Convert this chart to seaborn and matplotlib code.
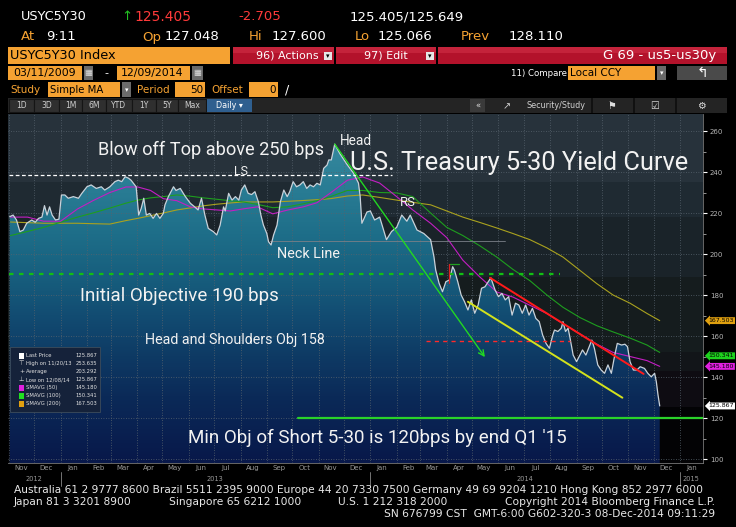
#!/usr/bin/env python3
# US Treasury 5s30s curve - Bloomberg style chart

import numpy as np
import pandas as pd
import matplotlib
matplotlib.use("Agg")
import matplotlib.pyplot as plt
import matplotlib.dates as mdates
import seaborn as sns
from matplotlib.patches import Rectangle
from matplotlib.colors import LinearSegmentedColormap
from matplotlib.ticker import MultipleLocator, FuncFormatter
from matplotlib.transforms import blended_transform_factory

# ---- data (bps) ----
price_dates = [
    "2012-11-02", "2012-11-06", "2012-11-10", "2012-11-14", "2012-11-18", "2012-11-22",
    "2012-11-28", "2012-12-02", "2012-12-06", "2012-12-10", "2012-12-13", "2012-12-16",
    "2012-12-19", "2012-12-22", "2012-12-26", "2012-12-30", "2013-01-02", "2013-01-06",
    "2013-01-10", "2013-01-16", "2013-01-22", "2013-01-26", "2013-02-01", "2013-02-06",
    "2013-02-12", "2013-02-18", "2013-02-22", "2013-02-28", "2013-03-06", "2013-03-10",
    "2013-03-14", "2013-03-18", "2013-03-22", "2013-03-25", "2013-03-31", "2013-04-03",
    "2013-04-06", "2013-04-09", "2013-04-12", "2013-04-16", "2013-04-20", "2013-04-24",
    "2013-04-28", "2013-05-02", "2013-05-04", "2013-05-08", "2013-05-14", "2013-05-17",
    "2013-05-22", "2013-05-28", "2013-06-03", "2013-06-08", "2013-06-12", "2013-06-16",
    "2013-06-20", "2013-06-24", "2013-06-30", "2013-07-04", "2013-07-08", "2013-07-12",
    "2013-07-14", "2013-07-18", "2013-07-22", "2013-07-26", "2013-07-30", "2013-08-02",
    "2013-08-06", "2013-08-10", "2013-08-14", "2013-08-18", "2013-08-22", "2013-08-25",
    "2013-08-28", "2013-09-01", "2013-09-03", "2013-09-06", "2013-09-09", "2013-09-13",
    "2013-09-17", "2013-09-21", "2013-09-25", "2013-09-28", "2013-10-02", "2013-10-06",
    "2013-10-10", "2013-10-14", "2013-10-18", "2013-10-22", "2013-10-26", "2013-10-30",
    "2013-11-03", "2013-11-07", "2013-11-11", "2013-11-13", "2013-11-16", "2013-11-20",
    "2013-11-26", "2013-12-04", "2013-12-12", "2013-12-18", "2013-12-20", "2013-12-22",
    "2013-12-28", "2014-01-01", "2014-01-06", "2014-01-12", "2014-01-20", "2014-01-26",
    "2014-02-01", "2014-02-07", "2014-02-13", "2014-02-17", "2014-02-25", "2014-03-05",
    "2014-03-13", "2014-03-17", "2014-03-19", "2014-03-23", "2014-03-27", "2014-03-31",
    "2014-04-04", "2014-04-08", "2014-04-10", "2014-04-14", "2014-04-18", "2014-04-22",
    "2014-04-26", "2014-04-30", "2014-05-04", "2014-05-08", "2014-05-12", "2014-05-16",
    "2014-05-20", "2014-05-23", "2014-05-28", "2014-06-01", "2014-06-05", "2014-06-09",
    "2014-06-13", "2014-06-17", "2014-06-21", "2014-06-25", "2014-06-29", "2014-07-03",
    "2014-07-07", "2014-07-11", "2014-07-15", "2014-07-19", "2014-07-23", "2014-07-27",
    "2014-07-31", "2014-08-04", "2014-08-06", "2014-08-10", "2014-08-14", "2014-08-16",
    "2014-08-19", "2014-08-22", "2014-08-24", "2014-08-28", "2014-09-01", "2014-09-05",
    "2014-09-08", "2014-09-12", "2014-09-16", "2014-09-19", "2014-09-22", "2014-09-26",
    "2014-09-30", "2014-10-04", "2014-10-08", "2014-10-12", "2014-10-16", "2014-10-19",
    "2014-10-24", "2014-10-28", "2014-10-31", "2014-11-03", "2014-11-07", "2014-11-11",
    "2014-11-15", "2014-11-20", "2014-11-24", "2014-11-28", "2014-12-02", "2014-12-04",
    "2014-12-06", "2014-12-08",
]
price_bps = [
    218.2, 219, 216.6, 210.9, 211.7, 215,
    216.6, 215.5, 217.4, 218, 223.6, 219,
    223, 219, 216.6, 217, 228.8, 228.8,
    227.2, 228, 227.2, 229.6, 232.8, 233.7,
    232, 232.8, 231.2, 232.8, 235.3, 236,
    235.3, 237.7, 237, 236, 232.8, 219,
    222.3, 227.2, 219, 219.8, 217.4, 219.8,
    217.4, 219.8, 224, 228, 232.8, 231,
    232, 228, 224.7, 223, 221.5, 227.2,
    219, 212.5, 210.9, 209.3, 214.1, 223,
    221, 229.6, 226.3, 228, 226.3, 231.2,
    233.7, 229.6, 229, 230.4, 225.5, 219,
    214.1, 210, 206, 204.4, 209.3, 214.1,
    225.5, 231.2, 228, 230.4, 235.3, 232.8,
    233.7, 235.3, 232, 233.7, 232.8, 234.5,
    233.7, 241.8, 243.4, 245.9, 245.9, 253.6,
    249, 244, 239.5, 234.6, 228, 215,
    220.5, 221, 216.6, 218, 207, 211,
    213, 219, 216, 219, 211.7, 210,
    207, 198.5, 192.2, 185.7, 181.6, 186.5,
    187.3, 193.8, 192.2, 186.5, 180, 176.7,
    172.7, 177.6, 171.1, 175.1, 183.3, 184,
    186.5, 188.4, 182.4, 179.2, 180.8, 177.6,
    179.2, 170.2, 176, 175.1, 171.1, 175.1,
    170.2, 173.5, 168.6, 167, 160.5, 156.4,
    154, 160.5, 162.9, 162.2, 163.8, 167,
    162.2, 163.8, 159.7, 150.7, 147.5, 150.7,
    153.2, 150.7, 154.8, 158, 154, 145.9,
    143.4, 141.8, 145.9, 141.8, 150.7, 156.4,
    155.6, 156, 154.8, 147.5, 143.4, 143.4,
    145, 144.2, 141.8, 140.1, 141.8, 137.7,
    131.2, 125.9,
]

ma_dates = [
    "2012-11-03", "2012-11-23", "2012-12-12", "2013-01-01", "2013-01-21", "2013-02-08",
    "2013-02-28", "2013-03-19", "2013-04-02", "2013-04-17", "2013-05-02", "2013-05-18",
    "2013-06-03", "2013-06-18", "2013-07-04", "2013-07-20", "2013-08-04", "2013-08-21",
    "2013-09-08", "2013-09-25", "2013-10-14", "2013-10-30", "2013-11-15", "2013-12-05",
    "2013-12-23", "2014-01-12", "2014-02-01", "2014-02-20", "2014-03-13", "2014-04-01",
    "2014-04-20", "2014-05-10", "2014-05-30", "2014-06-18", "2014-07-08", "2014-07-28",
    "2014-08-16", "2014-09-05", "2014-09-25", "2014-10-14", "2014-11-03", "2014-11-23",
    "2014-12-08",
]
sma50 = [
    218, 218, 216, 216, 222, 226, 230, 232.7, 232.7, 231,
    227, 226, 223, 222, 221.5, 221, 222, 223, 219.6, 221.4,
    223, 225, 229.8, 236, 237.6, 234.6, 228, 221.5, 215, 208,
    197, 188.8, 181.5, 179, 175, 171, 166, 161, 156, 152,
    150, 148, 145.2,
]
sma100 = [
    209, 211, 213, 215.5, 218, 220, 222.4, 224.8, 226.3, 227.4,
    228, 228.8, 228.2, 227.4, 226.7, 226, 225.4, 224.2, 222.6, 223,
    224.5, 226, 228, 231, 231, 230, 229.8, 228, 220, 213,
    209, 204, 198.5, 192.5, 187, 180, 174, 169, 165, 162,
    159, 155.6, 152,
]
sma200 = [
    215.6, 215.3, 215, 215, 215, 214.8, 214.6, 216.3, 217.4, 218.7,
    220, 221.5, 222.5, 223.5, 224.3, 224.9, 225.4, 225.4, 225.4, 225.7,
    226.1, 226.5, 227, 228.3, 228.8, 227.6, 226.3, 225.2, 224, 221,
    218, 215.4, 212.7, 210, 207, 203, 198.5, 192, 185.5, 180,
    176, 171, 167.5,
]

# drawn levels / trend lines (date, bps)
ls_level = 238.5
ls_span = ["2012-11-01", "2014-01-26"]
avg_level = 206.5
avg_span = ["2013-09-05", "2014-06-09"]
initial_obj = 190.3
initial_span = ["2012-11-01", "2014-08-12"]
hs_obj = 157.6
hs_span = ["2014-03-07", "2014-08-24"]
min_obj = 120.0
min_span = ["2013-10-08", "2015-01-28"]
arrow_pts = [("2013-11-20", 253.6), ("2014-05-16", 149.7)]
yellow_pts = [("2014-04-26", 176.7), ("2014-10-25", 129.9)]
red_pts = [("2014-05-22", 188.4), ("2014-11-19", 141.5)]

legend_rows = ["Last Price", "High on 11/20/13", "Average", "Low on 12/08/14",
               "SMAVG (50)", "SMAVG (100)", "SMAVG (200)"]
legend_vals = ["125.867", "253.635", "203.292", "125.867", "145.180", "150.341", "167.503"]
tag_vals = [167.503, 150.341, 145.180, 125.867]

month_range = ["2012-10-31", "2015-01-28"]
y_range = [98.05, 268.3]

sns.set_theme(style="dark")
plt.rcParams['font.family'] = ['DejaVu Sans']

W, H = 736, 527
fig = plt.figure(figsize=(W / 100, H / 100), dpi=100, facecolor='black')

ORANGE = '#f5a232'
RED = '#b3122b'
ANNOT_FONT = ['Roboto', 'DejaVu Sans']


def ftxt(x, y, s, size, color, ha='left', va='center', **kw):
    fig.text(x / W, 1 - y / H, s, fontsize=size, color=color, ha=ha, va=va, **kw)


def frect(x0, y0, x1, y1, fc, ec='none', lw=0, z=1):
    fig.add_artist(Rectangle((x0 / W, 1 - y1 / H), (x1 - x0) / W, (y1 - y0) / H,
                             transform=fig.transFigure, facecolor=fc, edgecolor=ec,
                             linewidth=lw, zorder=z))


# ---- header ----
ftxt(21, 17, 'USYC5Y30', 9.3, 'white')
ftxt(121, 17, '↑', 9.5, '#22c022')
ftxt(134, 17, '125.405', 10, '#ff3a3a')
ftxt(238, 17, '-2.705', 9.5, '#ff3a3a')
ftxt(350, 17, '125.405/125.649', 9.5, 'white')
for x, s, c in [(21, 'At', ORANGE), (46, '9:11', 'white'), (142, 'Op', ORANGE),
                (165, '127.048', 'white'), (249, 'Hi', ORANGE), (272, '127.600', 'white'),
                (355, 'Lo', ORANGE), (378, '125.066', 'white'), (461, 'Prev', ORANGE),
                (509, '128.110', 'white')]:
    ftxt(x, 37, s, 9.5, c)

frect(8, 47, 230, 64, ORANGE)
ftxt(10, 56, 'USYC5Y30 Index', 9.3, 'black')
for x0, x1 in [(233, 334), (336, 436), (438, 727)]:
    frect(x0, 47, x1, 64, RED)
    frect(x0, 47, x1, 53, '#c4233b')
ftxt(256, 56, '96) Actions', 8, 'white')
ftxt(364, 56, '97) Edit', 8, 'white')
for x in (324, 426):
    frect(x, 52, x + 8, 60, '#e6e6e6')
    ftxt(x + 4, 56.5, '▾', 5, 'black', ha='center')
ftxt(716, 56, 'G 69 - us5-us30y', 9.5, 'white', ha='right')

frect(8, 66, 82, 80, ORANGE)
ftxt(13, 73, '03/11/2009', 7.8, 'black')
frect(84, 66, 93, 80, '#6a6a6a')
ftxt(88.5, 73, '▦', 6, '#dddddd', ha='center')
ftxt(104, 73, '-', 8, 'white')
frect(117, 66, 190, 80, ORANGE)
ftxt(121, 73, '12/09/2014', 7.8, 'black')
frect(192, 66, 203, 80, '#6a6a6a')
ftxt(197.5, 73, '▦', 6, '#dddddd', ha='center')
ftxt(511, 73, '11) Compare', 6.2, 'white')
frect(568, 66, 655, 80, ORANGE)
ftxt(570, 73, 'Local CCY', 7.5, 'black')
frect(657, 66, 666, 80, '#6a6a6a')
ftxt(661.5, 73, '▾', 5, 'white', ha='center')
frect(677, 66, 727, 80, '#4a4a4a')
ftxt(702, 73, '↰', 10, 'white', ha='center')

ftxt(10, 90, 'Study', 7.5, ORANGE)
frect(48, 82, 120, 97, ORANGE)
ftxt(50, 90, 'Simple MA', 7.3, 'black')
frect(122, 82, 131, 97, '#6a6a6a')
ftxt(126.5, 90, '▾', 5, 'white', ha='center')
ftxt(137, 90, 'Period', 7.5, ORANGE)
frect(175, 82, 205, 97, ORANGE)
ftxt(203, 90, '50', 7.5, 'black', ha='right')
ftxt(211, 90, 'Offset', 7.5, ORANGE)
frect(249, 82, 278, 97, ORANGE)
ftxt(276, 90, '0', 7.5, 'black', ha='right')
ftxt(287, 90, '/', 9, 'white', ha='center')

frect(8, 98, 727, 113, '#242424')
for s, x0, x1 in [('1D', 9, 34), ('3D', 34, 59), ('1M', 59, 82), ('6M', 82, 106),
                  ('YTD', 106, 132), ('1Y', 132, 156), ('5Y', 156, 178), ('Max', 178, 206)]:
    frect(x0, 99, x1, 112, '#2f2f2f', ec='#151515', lw=0.8)
    ftxt((x0 + x1) / 2, 106, s, 5.5, '#cfcfcf', ha='center')
frect(207, 99, 252, 112, '#2f5f8f')
ftxt(229.5, 106, 'Daily ▾', 5.8, 'white', ha='center')
frect(470, 99, 485, 112, '#3a3a3a')
ftxt(477.5, 106, '«', 6, '#dddddd', ha='center')
ftxt(507, 106, '↗', 7, '#cccccc', ha='center')
ftxt(556, 106, 'Security/Study', 5.8, '#cfcfcf', ha='center')
for x in (591, 633, 675):
    frect(x, 98, x + 1.5, 113, '#111111')
ftxt(612, 106, '⚑', 7, '#dddddd', ha='center')
ftxt(655, 106, '☑', 7, '#dddddd', ha='center')
ftxt(701, 106, '⚙', 7, '#dddddd', ha='center')

# ---- chart ----
ax = fig.add_axes([8 / W, 1 - 463 / H, 695 / W, 349 / H])
ax.set_facecolor('black')

price_df = pd.DataFrame({'date': pd.to_datetime(price_dates), 'bps': price_bps})
ma_df = pd.DataFrame({'date': pd.to_datetime(ma_dates), 'sma50': sma50,
                      'sma100': sma100, 'sma200': sma200})

sns.lineplot(data=ma_df, x='date', y='sma200', ax=ax, color='#aaa21e', lw=0.8, zorder=4)
sns.lineplot(data=ma_df, x='date', y='sma100', ax=ax, color='#1e9e1e', lw=0.8, zorder=4)
sns.lineplot(data=ma_df, x='date', y='sma50', ax=ax, color='#c41ec4', lw=0.8, zorder=4)
sns.lineplot(data=price_df, x='date', y='bps', ax=ax, color='#c9d2da', lw=0.9, zorder=6)

d = lambda s: mdates.date2num(pd.Timestamp(s))
x0, x1 = d(month_range[0]), d(month_range[1])
y0, y1 = y_range

# horizontal shade bands behind the curve
bands = [(235, 270, '#27323b'), (218, 235, '#1f2a32'), (188.8, 218, '#1a2329'),
         (152, 188.8, '#151c1e'), (143, 152, '#121519'), (125.5, 143, '#0e0c12'),
         (95, 125.5, '#030305')]
for lo, hi, c in bands:
    ax.axhspan(lo, hi, color=c, zorder=0, lw=0)

# gradient fill under the price
fill = ax.fill_between(price_df['date'], price_df['bps'], y0, facecolor='none',
                       edgecolor='none')
cmap = LinearSegmentedColormap.from_list('bbg', [
    (0.0, '#08184a'), ((130 - y0) / (y1 - y0), '#0b2a58'),
    ((150 - y0) / (y1 - y0), '#0e3a64'), ((170 - y0) / (y1 - y0), '#124c72'),
    ((190 - y0) / (y1 - y0), '#175f7e'), ((210 - y0) / (y1 - y0), '#1e6e89'),
    ((230 - y0) / (y1 - y0), '#287b93'), ((250 - y0) / (y1 - y0), '#33869c'),
    (1.0, '#3d8ea3')])
grad = np.linspace(0, 1, 300).reshape(-1, 1)
im = ax.imshow(grad, extent=[x0, x1, y0, y1], origin='lower', aspect='auto',
               cmap=cmap, zorder=1)
im.set_clip_path(fill.get_paths()[0], transform=ax.transData)

# levels and trend lines
ax.plot([d(s) for s in ls_span], [ls_level] * 2, color='white', ls=(0, (3, 2)), lw=0.9, zorder=7)
ax.plot([d(s) for s in avg_span], [avg_level] * 2, color='#7a8088', lw=0.6, zorder=5)
ax.plot([d(s) for s in initial_span], [initial_obj] * 2, color='#12c012',
        ls=(0, (2, 2.5)), lw=1.6, zorder=7)
ax.plot([d(s) for s in hs_span], [hs_obj] * 2, color='#ff2a2a', ls=(0, (3, 3)), lw=1.0, zorder=7)
ax.plot([d(s) for s in min_span], [min_obj] * 2, color='#2ad22a', lw=1.6, zorder=7)
ax.plot([d(p[0]) for p in yellow_pts], [p[1] for p in yellow_pts], color='#d4e21c', lw=1.4, zorder=8)
ax.plot([d(p[0]) for p in red_pts], [p[1] for p in red_pts], color='#ff1a1a', lw=1.4, zorder=8)
ax.annotate('', xy=(d(arrow_pts[1][0]), arrow_pts[1][1]),
            xytext=(d(arrow_pts[0][0]), arrow_pts[0][1]),
            arrowprops=dict(arrowstyle='->', color='#22d822', lw=1.0, mutation_scale=10,
                            shrinkA=0, shrinkB=0), zorder=8)
ax.plot([d("2014-04-04"), d("2014-04-16")], [195, 195], color='#20a020', lw=0.9, zorder=7)
ax.plot([d("2014-04-04"), d("2014-04-04")], [186, 195], color='#e02020', lw=0.9, zorder=7)

ax.set_xlim(x0, x1)
ax.set_ylim(y0, y1)
ax.set_xlabel('')
ax.set_ylabel('')

# grid and ticks
ax.set_axisbelow(False)
ax.xaxis.set_major_locator(mdates.MonthLocator())
ax.xaxis.set_major_formatter(FuncFormatter(lambda v, p: ''))
ax.xaxis.set_minor_locator(mdates.MonthLocator(bymonthday=15))
ax.xaxis.set_minor_formatter(mdates.DateFormatter('%b'))
ax.yaxis.tick_right()
ax.set_yticks(range(100, 261, 20))
ax.yaxis.set_minor_locator(MultipleLocator(10))
ax.yaxis.set_major_formatter(FuncFormatter(lambda v, p: f'{v:.0f}'))
ax.grid(True, which='major', axis='both', color='#57636d', ls=(0, (1, 2)), lw=0.6)
ax.tick_params(axis='x', which='major', length=2.5, color='#777777', width=0.6)
ax.tick_params(axis='x', which='minor', length=0, labelsize=5, labelcolor='#9a9a9a', pad=1.5)
ax.tick_params(axis='y', which='major', length=3, width=0.8, color='white', labelsize=5,
               labelcolor='#b5b5b5', pad=2, direction='out')
ax.tick_params(axis='y', which='minor', length=2, width=0.6, color='#aaaaaa', direction='out')
for side in ('left', 'top'):
    ax.spines[side].set_visible(False)
for side in ('right', 'bottom'):
    ax.spines[side].set_color('#777777')
    ax.spines[side].set_linewidth(0.6)

trans = blended_transform_factory(ax.transData, ax.transAxes)
for label, center in [('2012', '2012-11-30'), ('2013', '2013-07-02'),
                      ('2014', '2014-07-02'), ('2015', '2015-01-14')]:
    ax.text(d(center), -0.046, label, transform=trans, fontsize=4.8, color='#9a9a9a',
            ha='center', va='center')
for yr in ('2013-01-01', '2014-01-01', '2015-01-01'):
    ax.plot([d(yr)] * 2, [-0.026, -0.066], transform=trans, clip_on=False,
            color='#888888', lw=0.6)

# right-hand value tags
for val, c in zip(tag_vals, ['#e0a010', '#1ed21e', '#e020e0', 'white']):
    ax.annotate(f'{val:.3f}', xy=(1.0, val), xycoords=('axes fraction', 'data'),
                xytext=(4, 0), textcoords='offset points', fontsize=4.5, color='black',
                ha='left', va='center', annotation_clip=False,
                bbox=dict(boxstyle='larrow,pad=0.15', fc=c, ec='none'), zorder=10)

# ---- annotations ----
ftxt(98, 155, 'Blow off Top above 250 bps', 13.1, '#f2f2f2', va='baseline', family=ANNOT_FONT)
ftxt(234, 175, 'LS', 9, '#f2f2f2', va='baseline', family=ANNOT_FONT)
ftxt(340, 145, 'Head', 9.8, '#f2f2f2', va='baseline', family=ANNOT_FONT)
ftxt(350, 170, 'U.S. Treasury 5-30 Yield Curve', 18.3, '#f2f2f2', va='baseline', family=ANNOT_FONT)
ftxt(400, 206, 'RS', 9.4, '#f2f2f2', va='baseline', family=ANNOT_FONT)
ftxt(277, 258, 'Neck Line', 10.4, '#f2f2f2', va='baseline', family=ANNOT_FONT)
ftxt(80, 301, 'Initial Objective 190 bps', 13.5, '#f2f2f2', va='baseline', family=ANNOT_FONT)
ftxt(145, 344, 'Head and Shoulders Obj 158', 10.3, '#f2f2f2', va='baseline', family=ANNOT_FONT)
ftxt(188, 443, "Min Obj of Short 5-30 is 120bps by end Q1 '15", 13.5, '#f2f2f2',
     va='baseline', family=ANNOT_FONT)

# ---- legend box ----
frect(10, 347, 100, 412, '#15223a', ec='#3d4c5c', lw=0.6, z=5)
frect(14.6, 356, 15.2, 404, '#8a8a8a', z=6)
swatches = ['white', None, None, None, '#e020e0', '#20e020', '#e0a010']
marks = [None, '⊤', '+', '⊥', None, None, None]
for i, (name, val) in enumerate(zip(legend_rows, legend_vals)):
    yy = 355.5 + i * 8
    if swatches[i]:
        frect(19, yy - 3, 24, yy + 3, swatches[i], z=6)
    if marks[i]:
        ftxt(21.5, yy, marks[i], 4.5, '#dddddd', ha='center', zorder=6)
    ftxt(26, yy, name, 3.8, '#e0e0e0', zorder=6)
    ftxt(97, yy, val, 3.8, '#e0e0e0', ha='right', zorder=6)

# ---- footer ----
FOOT = '#e8e8e8'
ftxt(14, 490, 'Australia 61 2 9777 8600 Brazil 5511 2395 9000 Europe 44 20 7330 7500 '
     'Germany 49 69 9204 1210 Hong Kong 852 2977 6000', 7.7, FOOT)
ftxt(14, 502, 'Japan 81 3 3201 8900', 7.7, FOOT)
ftxt(169, 502, 'Singapore 65 6212 1000', 7.7, FOOT)
ftxt(338, 502, 'U.S. 1 212 318 2000', 7.7, FOOT)
ftxt(715, 502, 'Copyright 2014 Bloomberg Finance L.P.', 7.7, FOOT, ha='right')
ftxt(715, 514, 'SN 676799 CST  GMT-6:00 G602-320-3 08-Dec-2014 09:11:29', 7.7, FOOT, ha='right')

fig.savefig('out.png', dpi=100, facecolor='black')
